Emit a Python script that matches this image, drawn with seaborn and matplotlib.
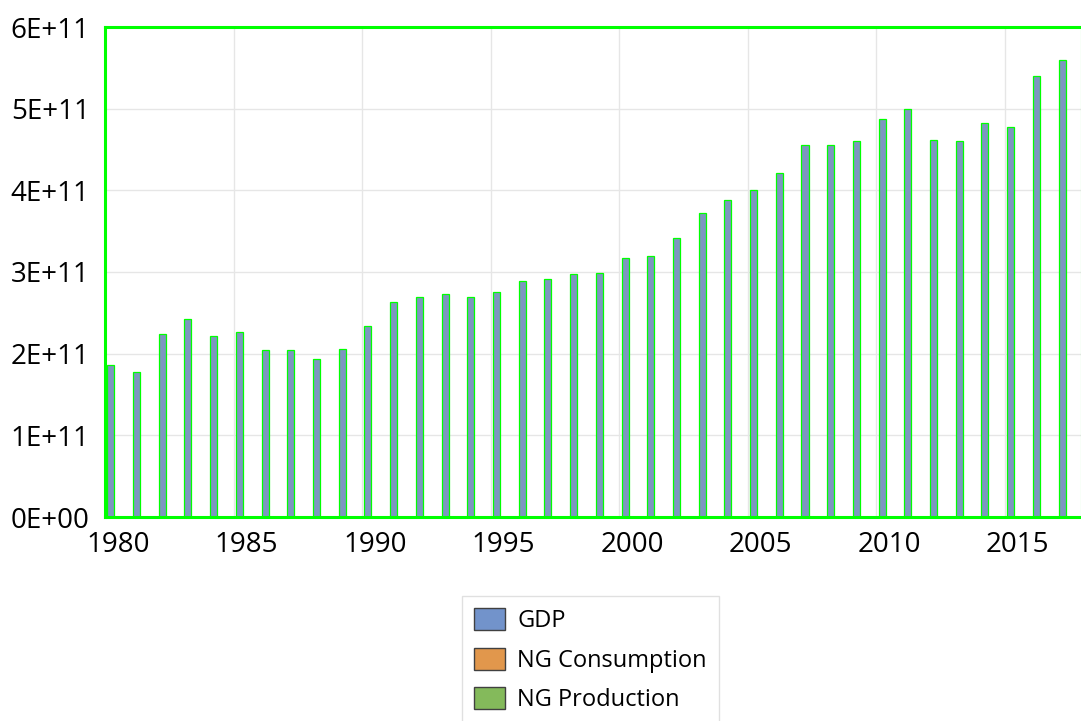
import matplotlib
matplotlib.use("Agg")
import matplotlib.pyplot as plt
from matplotlib.patches import Patch
from matplotlib.ticker import FuncFormatter, FixedLocator
import seaborn as sns
import pandas as pd

years = list(range(1980, 2018))
gdp = [1.86e11, 1.77e11, 2.24e11, 2.43e11, 2.22e11, 2.27e11, 2.04e11, 2.05e11, 1.94e11, 2.06e11,
       2.34e11, 2.63e11, 2.70e11, 2.73e11, 2.69e11, 2.75e11, 2.89e11, 2.91e11, 2.97e11, 2.99e11,
       3.17e11, 3.19e11, 3.42e11, 3.72e11, 3.88e11, 4.00e11, 4.21e11, 4.55e11, 4.56e11, 4.60e11,
       4.87e11, 5.00e11, 4.62e11, 4.61e11, 4.83e11, 4.77e11, 5.40e11, 5.60e11]
ng_consumption = [0.0] * len(years)
ng_production = [0.0] * len(years)
series_names = ["GDP", "NG Consumption", "NG Production"]
series_colors = ["#7293CB", "#E1974C", "#84BA5B"]
xtick_years = [1980, 1985, 1990, 1995, 2000, 2005, 2010, 2015]
yticks = [0, 1e11, 2e11, 3e11, 4e11, 5e11, 6e11]

rows = []
for name, vals in zip(series_names, [gdp, ng_consumption, ng_production]):
    for y, v in zip(years, vals):
        rows.append({"Year": str(y), "Series": name, "Value": v})
df = pd.DataFrame(rows)

sns.set_theme(style="white")
plt.rcParams["font.family"] = ["Open Sans", "DejaVu Sans"]
plt.rcParams["text.color"] = "black"

fig = plt.figure(figsize=(10.81, 7.21), dpi=100)
ax = fig.add_axes([105 / 1081, (721 - 517) / 721, 977 / 1081, 490 / 721])

sns.barplot(data=df, x="Year", y="Value", hue="Series", hue_order=series_names,
            order=[str(y) for y in years], palette=series_colors,
            edgecolor="#00ff00", linewidth=0.9, width=0.82, ax=ax, legend=False)

ax.set_xlim(-0.5, len(years) - 0.5)
ax.set_ylim(0, 6e11)
ax.set_xlabel("")
ax.set_ylabel("")

ax.xaxis.set_major_locator(FixedLocator([years.index(y) for y in xtick_years]))
ax.set_xticklabels([str(y) for y in xtick_years])
ax.xaxis.set_minor_locator(FixedLocator([-0.5 + 5 * k for k in range(8)]))
ax.set_yticks(yticks)
ax.yaxis.set_major_formatter(FuncFormatter(lambda v, p: f"{v:.0E}"))

ax.set_axisbelow(True)
ax.yaxis.grid(True, color="#e6e6e6", linewidth=1.0)
ax.xaxis.grid(True, which="minor", color="#e6e6e6", linewidth=1.0)
ax.xaxis.grid(False, which="major")

ax.tick_params(axis="both", which="both", length=0, labelsize=20, colors="black")
ax.tick_params(axis="x", pad=10)
ax.tick_params(axis="y", pad=11)

for s in ax.spines.values():
    s.set_visible(True)
    s.set_color("#00ff00")
    s.set_linewidth(2.2)

handles = [Patch(facecolor=c, edgecolor="#404040", linewidth=1.0) for c in series_colors]
leg = fig.legend(handles, series_names, loc="upper left",
                 bbox_to_anchor=(462 / 1081, 1 - 596 / 721),
                 fontsize=17, frameon=True, fancybox=False, shadow=False,
                 handlelength=1.3, handleheight=1.06, handletextpad=0.55,
                 labelspacing=0.62, borderpad=0.5, borderaxespad=0,
                 labelcolor="black")
leg.get_frame().set_edgecolor("#d9d9d9")
leg.get_frame().set_linewidth(1.0)

fig.savefig("out.png", dpi=100)
